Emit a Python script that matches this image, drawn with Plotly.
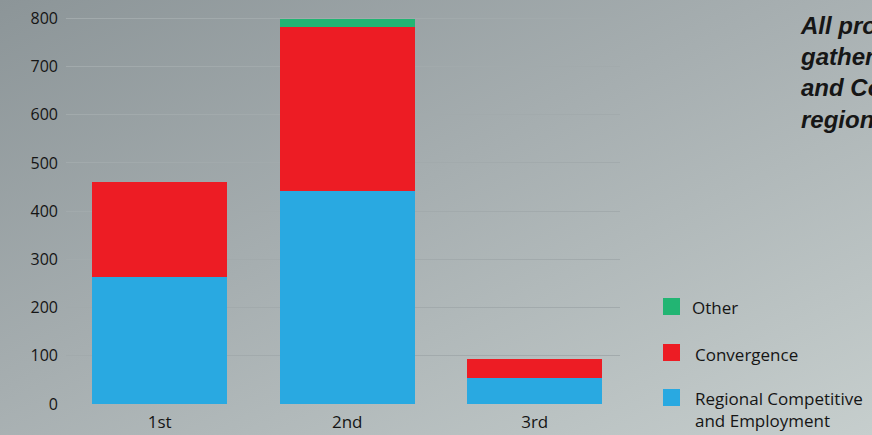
import base64
import plotly.graph_objects as go

# ---- data ----
categories = ["1st", "2nd", "3rd"]
series_names = ["Regional Competitiveness<br>and Employment", "Convergence", "Other"]
legend_labels = ["Regional Competitive<br>and Employment", "Convergence", "Other"]
rce_values = [263, 441, 53]
convergence_values = [198, 340, 41]
other_values = [0, 17, 0]
series_values = [rce_values, convergence_values, other_values]
series_colors = ["#29a9e1", "#ed1c24", "#22b573"]
y_ticks = [0, 100, 200, 300, 400, 500, 600, 700, 800]
title_lines = ["All projects were", "gathered under the", "and Convergence", "regions"]

W, H = 872, 435
L, R, T, B = 66, 252, 0, 31
pw, ph = W - L - R, H - T - B


def px_to_paper(x, y):
    return (x - L) / pw, (H - B - y) / ph


fig = go.Figure()
for name, vals, col in zip(series_names, series_values, series_colors):
    fig.add_trace(go.Bar(
        x=categories, y=vals, name=name, marker=dict(color=col, line=dict(width=0)),
        width=0.72, showlegend=False,
    ))

# background gradient as an inline svg image
svg = f'''<svg xmlns="http://www.w3.org/2000/svg" width="{W}" height="{H}" viewBox="0 0 {W} {H}" preserveAspectRatio="none">
<defs>
<linearGradient id="g" x1="0" y1="0" x2="1" y2="1">
<stop offset="0" stop-color="#8c9598"/>
<stop offset="0.45" stop-color="#a6aeb0"/>
<stop offset="1" stop-color="#c6cecd"/>
</linearGradient>
</defs>
<rect x="0" y="0" width="{W}" height="{H}" fill="url(#g)"/>
</svg>'''
src = "data:image/svg+xml;base64," + base64.b64encode(svg.encode()).decode()
x0, y0 = px_to_paper(0, 0)
fig.add_layout_image(dict(
    source=src, xref="paper", yref="paper", x=x0, y=y0,
    sizex=W / pw, sizey=H / ph, xanchor="left", yanchor="top",
    sizing="stretch", layer="below",
))

# manual legend (top to bottom: Other, Convergence, RCE)
legend_rows = [
    (legend_labels[2], series_colors[2], 298, 690, 307),
    (legend_labels[1], series_colors[1], 344, 693, 354),
    (legend_labels[0], series_colors[0], 389, 693, 409),
]
for label, col, sq_top, tx, ty in legend_rows:
    ax0, ay0 = px_to_paper(663, sq_top)
    ax1, ay1 = px_to_paper(680, sq_top + 17)
    fig.add_shape(type="rect", xref="paper", yref="paper", x0=ax0, x1=ax1, y0=ay0, y1=ay1,
                  fillcolor=col, line=dict(width=0))
    tx_p, ty_p = px_to_paper(tx, ty)
    fig.add_annotation(xref="paper", yref="paper", x=tx_p, y=ty_p, text=label,
                       showarrow=False, xanchor="left", yanchor="middle", align="left",
                       font=dict(family="Open Sans", size=17, color="#151515"))

# right-side title text (clipped by page edge, as in the reference)
tx_p, ty_p = px_to_paper(798, 72.5)
fig.add_annotation(xref="paper", yref="paper", x=tx_p, y=ty_p,
                   text="<b><i>" + "<br>".join(title_lines) + "</i></b>",
                   showarrow=False, xanchor="left", yanchor="middle", align="left",
                   font=dict(family="Liberation Sans", size=24, color="#161616"))

fig.update_layout(
    width=W, height=H,
    margin=dict(l=L, r=R, t=T, b=B, pad=0, autoexpand=False),
    barmode="stack",
    paper_bgcolor="#a8b0b2",
    plot_bgcolor="rgba(0,0,0,0)",
    showlegend=False,
    font=dict(family="Open Sans", size=16, color="#151515"),
    bargap=0.28,
)
fig.update_xaxes(range=[-0.5, 2.455], showgrid=False, zeroline=False, showline=False,
                 ticks="", tickfont=dict(size=17), ticklabelstandoff=6, automargin=False)
fig.update_yaxes(range=[0, 838], tickvals=y_ticks, showgrid=True, gridcolor="#a2aaac",
                 gridwidth=1.2, zeroline=False, showline=False, ticks="",
                 ticklabelstandoff=7, tickfont=dict(size=16), automargin=False)

fig.write_html("out.html")
